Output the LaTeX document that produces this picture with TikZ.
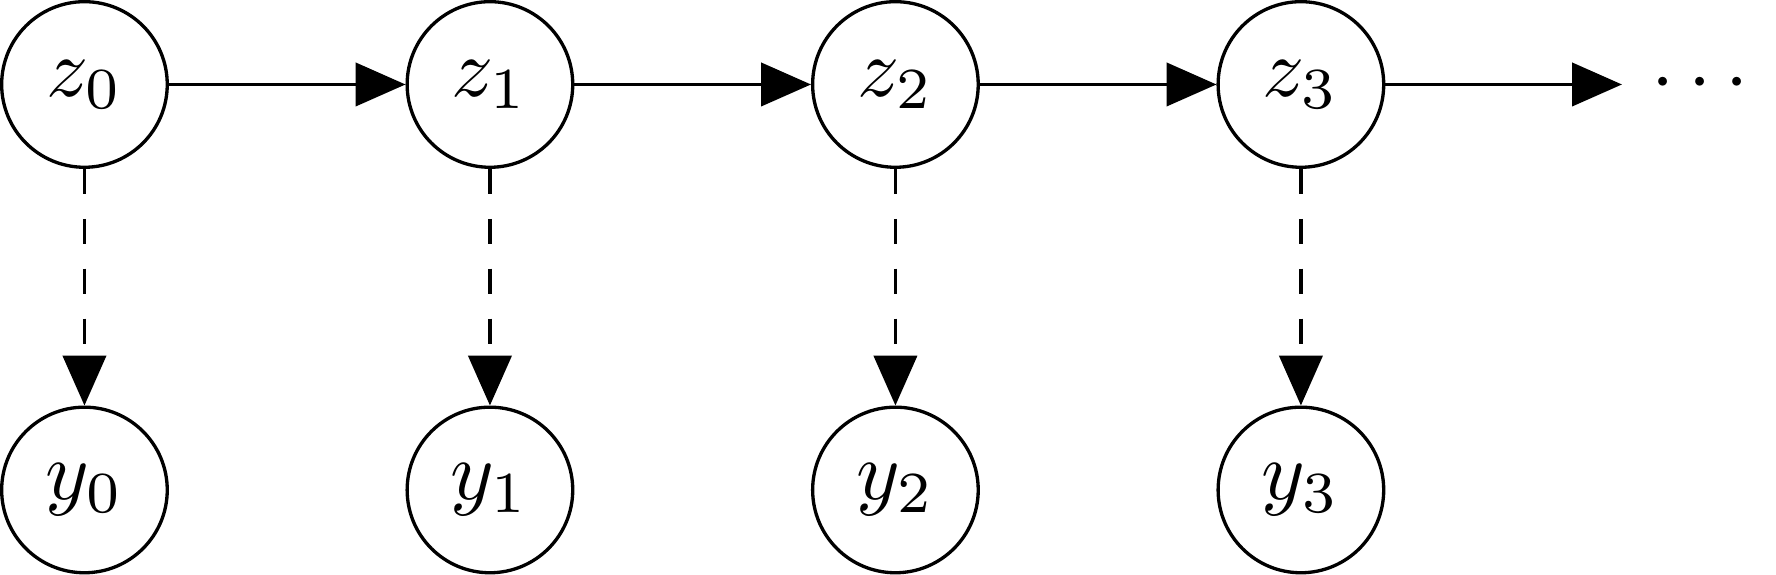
\documentclass[tikz,border=0pt]{standalone}
\usepackage{tikz}
\usetikzlibrary{arrows.meta, positioning}

\begin{document}
\begin{tikzpicture}[
    node distance=1cm,
    latent/.style={circle, draw, minimum size=0.7cm, inner sep=0pt},
    trans/.style={-{Triangle[length=6pt, width=5.2pt]}},
    emit/.style={-{Triangle[length=6pt, width=5.2pt]}, dashed}
]
    % Hidden chain
    \node[latent] (z0) {$z_0$};
    \node[latent, right=of z0] (z1) {$z_1$};
    \node[latent, right=of z1] (z2) {$z_2$};
    \node[latent, right=of z2] (z3) {$z_3$};
    \node[right=of z3] (dots) {$\cdots$};

    % Observations
    \node[latent, below=of z0] (y0) {$y_0$};
    \node[latent, below=of z1] (y1) {$y_1$};
    \node[latent, below=of z2] (y2) {$y_2$};
    \node[latent, below=of z3] (y3) {$y_3$};

    % Transitions
    \draw[trans] (z0) -- (z1);
    \draw[trans] (z1) -- (z2);
    \draw[trans] (z2) -- (z3);
    \draw[trans] (z3) -- (dots);

    % Emissions
    \draw[emit] (z0) -- (y0);
    \draw[emit] (z1) -- (y1);
    \draw[emit] (z2) -- (y2);
    \draw[emit] (z3) -- (y3);
\end{tikzpicture}
\end{document}
